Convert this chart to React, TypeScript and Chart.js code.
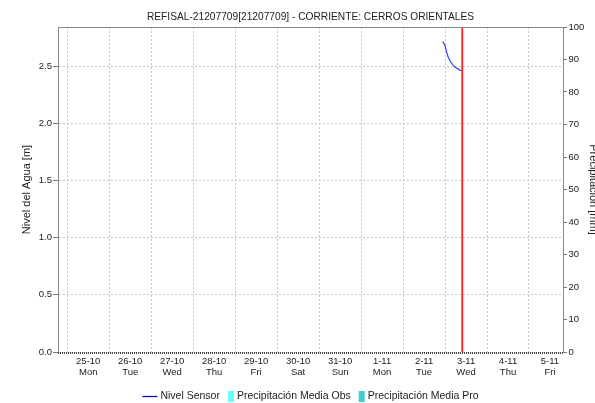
import { useEffect, useRef } from 'react';
import { Chart, registerables } from 'chart.js';

Chart.register(...registerables);

// ---- data ----
const chartTitle = 'REFISAL-21207709[21207709] - CORRIENTE: CERROS ORIENTALES';
// x values are days counted from 25-10 00:00
const dayOffsets = [0, 1, 2, 3, 4, 5, 6, 7, 8, 9, 10, 11];
const dateLabels = ['25-10', '26-10', '27-10', '28-10', '29-10', '30-10', '31-10', '1-11', '2-11', '3-11', '4-11', '5-11'];
const weekdayLabels = ['Mon', 'Tue', 'Wed', 'Thu', 'Fri', 'Sat', 'Sun', 'Mon', 'Tue', 'Wed', 'Thu', 'Fri'];
const sensorTime = [8.444, 8.499, 8.54, 8.578, 8.635, 8.713, 8.778, 8.887];
const sensorLevel = [2.717, 2.678, 2.62, 2.576, 2.538, 2.497, 2.482, 2.459];
const precipObsTime: number[] = [];
const precipObs: number[] = [];
const precipProTime: number[] = [];
const precipPro: number[] = [];
const nowMarkerTime = 8.91;
const xRange = [-0.72, 11.31];
const levelRange = [0, 2.842];
const levelTicks = [0, 0.5, 1.0, 1.5, 2.0, 2.5];
const precipRange = [0, 100];
const precipTicks = [0, 10, 20, 30, 40, 50, 60, 70, 80, 90, 100];

const FONT = '"Liberation Sans", Arial, sans-serif';
const sensorColor = '#2a2af5';
const obsColor = '#66ffff';
const proColor = '#44cccc';
const gridColor = '#c8c8c8';
const axisColor = '#888888';

const frame = {
  id: 'frame',
  afterDatasetsDraw(chart: any) {
    const { ctx, chartArea } = chart;
    ctx.save();
    // top edge of the plot box
    ctx.strokeStyle = axisColor;
    ctx.lineWidth = 1;
    const yTop = Math.round(chartArea.top) + 0.5;
    ctx.beginPath();
    ctx.moveTo(chartArea.left, yTop);
    ctx.lineTo(chartArea.right, yTop);
    ctx.stroke();
    // dotted base line of the time axis
    ctx.strokeStyle = '#444444';
    ctx.lineWidth = 2;
    ctx.setLineDash([1, 1]);
    const yBot = Math.round(chartArea.bottom) + 1;
    ctx.beginPath();
    ctx.moveTo(chartArea.left, yBot);
    ctx.lineTo(chartArea.right, yBot);
    ctx.stroke();
    ctx.restore();
  },
  afterDraw(chart: any) {
    const { ctx, chartArea } = chart;
    ctx.save();
    ctx.font = `10.2px ${FONT}`;
    ctx.fillStyle = '#222';
    ctx.textAlign = 'center';
    ctx.textBaseline = 'middle';
    ctx.fillText(chartTitle, (chartArea.left + chartArea.right) / 2, 17);
    ctx.restore();
  },
};

const bottomLegend = {
  id: 'bottomLegend',
  afterDraw(chart: any) {
    const { ctx, chartArea } = chart;
    const items = chart.data.datasets
      .filter((d: any) => d.showInLegend)
      .map((d: any) => ({
        label: d.label,
        kind: d.type === 'bar' ? 'box' : 'line',
        color: d.type === 'bar' ? d.backgroundColor : d.borderColor,
      }));
    ctx.save();
    ctx.font = `10.5px ${FONT}`;
    ctx.textBaseline = 'middle';
    const symW = (k: string) => (k === 'line' ? 15 : 6);
    const gapSym = 3;
    const gapItem = 8;
    let total = 0;
    items.forEach((it: any, i: number) => {
      total += symW(it.kind) + gapSym + ctx.measureText(it.label).width;
      if (i < items.length - 1) total += gapItem;
    });
    let x = (chartArea.left + chartArea.right) / 2 - total / 2;
    const y = 396.5;
    items.forEach((it: any) => {
      if (it.kind === 'line') {
        ctx.strokeStyle = '#1010b0';
        ctx.lineWidth = 1.3;
        ctx.beginPath();
        ctx.moveTo(x, y);
        ctx.lineTo(x + 15, y);
        ctx.stroke();
      } else {
        ctx.fillStyle = it.color;
        ctx.fillRect(x, y - 5.5, 6, 11);
      }
      x += symW(it.kind) + gapSym;
      ctx.fillStyle = '#222';
      ctx.fillText(it.label, x, y);
      x += ctx.measureText(it.label).width + gapItem;
    });
    ctx.restore();
  },
};

export default function App() {
  const ref = useRef<HTMLCanvasElement | null>(null);

  useEffect(() => {
    if (!ref.current) return;
    const chart = new Chart(ref.current, {
      type: 'line',
      data: {
        datasets: [
          {
            type: 'line',
            label: 'Nivel Sensor',
            data: sensorTime.map((t, i) => ({ x: t, y: sensorLevel[i] })),
            borderColor: sensorColor,
            borderWidth: 1.1,
            pointRadius: 0,
            tension: 0,
            yAxisID: 'y',
            showInLegend: true,
          } as any,
          {
            type: 'bar',
            label: 'Precipitación Media Obs',
            data: precipObsTime.map((t, i) => ({ x: t, y: precipObs[i] })),
            backgroundColor: obsColor,
            yAxisID: 'y1',
            showInLegend: true,
          } as any,
          {
            type: 'bar',
            label: 'Precipitación Media Pro',
            data: precipProTime.map((t, i) => ({ x: t, y: precipPro[i] })),
            backgroundColor: proColor,
            yAxisID: 'y1',
            showInLegend: true,
          } as any,
          {
            type: 'line',
            label: 'now',
            data: [
              { x: nowMarkerTime, y: levelRange[0] },
              { x: nowMarkerTime, y: levelRange[1] },
            ],
            borderColor: '#ff1a1a',
            borderWidth: 1.7,
            pointRadius: 0,
            yAxisID: 'y',
            showInLegend: false,
          } as any,
        ],
      },
      options: {
        animation: false,
        responsive: false,
        maintainAspectRatio: false,
        layout: { padding: { top: 27, left: 0, right: 0, bottom: 0 } },
        plugins: {
          legend: { display: false },
          tooltip: { enabled: false },
          title: { display: false },
        },
        scales: {
          x: {
            type: 'linear',
            min: xRange[0],
            max: xRange[1],
            offset: false,
            afterBuildTicks: (s: any) => {
              s.ticks = dayOffsets.map((v) => ({ value: v }));
            },
            afterFit: (s: any) => {
              s.height = 51;
            },
            ticks: {
              autoSkip: false,
              maxRotation: 0,
              padding: 4,
              color: '#222',
              font: { family: FONT, size: 9.5, lineHeight: 11 / 9.5 },
              callback: (v: any) => {
                const i = dayOffsets.indexOf(Number(v));
                return i >= 0 ? [dateLabels[i], weekdayLabels[i]] : '';
              },
            },
            grid: {
              color: gridColor,
              drawTicks: false,
            },
            border: { display: false, dash: [2, 2] },
          },
          y: {
            type: 'linear',
            position: 'left',
            min: levelRange[0],
            max: levelRange[1],
            afterBuildTicks: (s: any) => {
              s.ticks = levelTicks.map((v) => ({ value: v }));
            },
            afterFit: (s: any) => {
              s.width = 58;
            },
            ticks: {
              padding: 1,
              color: '#222',
              font: { family: FONT, size: 9.5 },
              callback: (v: any) => Number(v).toFixed(1),
            },
            grid: {
              color: gridColor,
              tickColor: '#777',
              tickLength: 5,
              tickBorderDash: [],
            } as any,
            border: { display: true, color: axisColor, width: 1, dash: [2, 2] },
            title: {
              display: true,
              text: 'Nivel del Agua [m]',
              color: '#222',
              font: { family: FONT, size: 11 },
              padding: { top: 20.4, bottom: 0 },
            },
          },
          y1: {
            type: 'linear',
            position: 'right',
            min: precipRange[0],
            max: precipRange[1],
            afterBuildTicks: (s: any) => {
              s.ticks = precipTicks.map((v) => ({ value: v }));
            },
            afterFit: (s: any) => {
              s.width = 37;
            },
            ticks: {
              padding: 1.5,
              color: '#222',
              font: { family: FONT, size: 9.5 },
            },
            grid: {
              drawOnChartArea: false,
              tickColor: '#777',
              tickLength: 4,
            },
            border: { display: true, color: axisColor, width: 1 },
            title: {
              display: true,
              text: 'Precipitación [mm]',
              color: '#222',
              font: { family: FONT, size: 11 },
              padding: { top: 0, bottom: 0 },
            },
          },
        },
      },
      plugins: [frame, bottomLegend],
    } as any);
    return () => chart.destroy();
  }, []);

  return (
    <div
      style={{
        position: 'fixed',
        left: 0,
        top: 0,
        width: 595,
        height: 403,
        overflow: 'hidden',
        background: '#fff',
      }}
    >
      <canvas ref={ref} width={600} height={403} style={{ width: 600, height: 403, display: 'block' }} />
    </div>
  );
}
